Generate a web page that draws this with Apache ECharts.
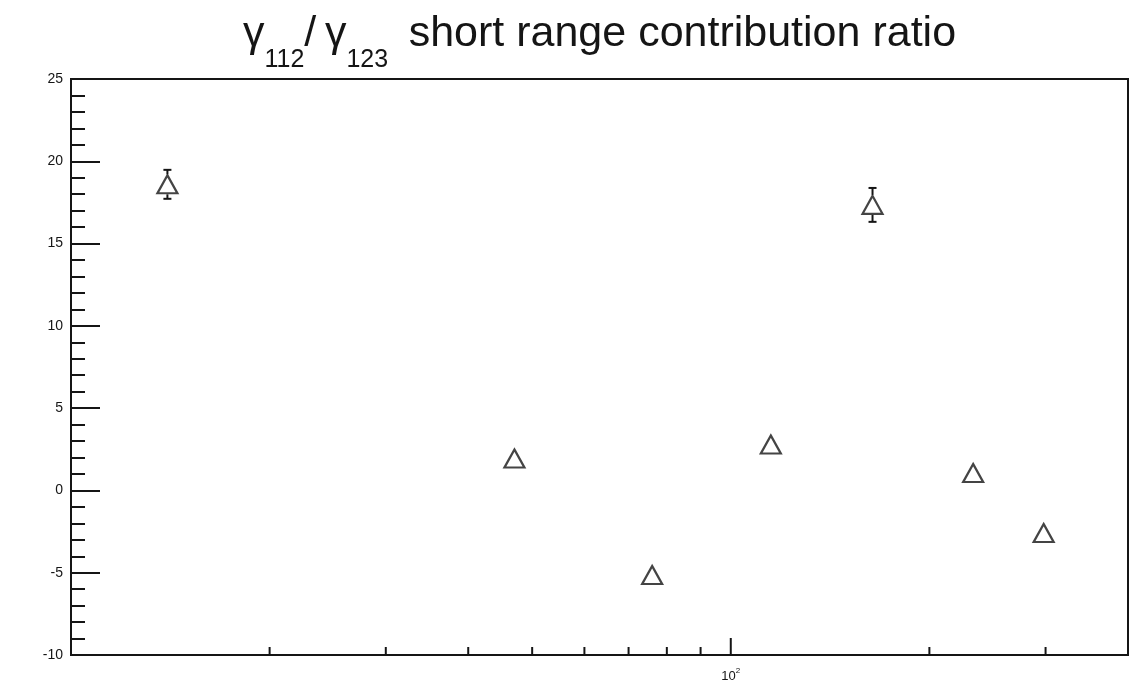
<!DOCTYPE html>
<html>
<head>
<meta charset="utf-8">
<title>γ112 / γ123 short range contribution ratio</title>
<script src="https://cdn.jsdelivr.net/npm/echarts@6/dist/echarts.min.js"></script>
<style>
  html, body { margin: 0; padding: 0; background: #ffffff; }
  #chart { width: 1137px; height: 691px; }
</style>
</head>
<body>
<div id="chart"></div>
<script>
// Measured points: x (log scale), ratio and its uncertainty
const xValues = [14, 47, 76, 115, 164, 233, 298];
const ratioValues = [18.6, 1.94, -5.14, 2.79, 17.35, 1.06, -2.59];
const ratioErrors = [0.88, 0.3, 0.3, 0.3, 1.03, 0.3, 0.3];

// Axis ranges and tick marks
const xRange = [10, 400];
const yRange = [-10, 25];
const yStep = 5;
const xMajorTicks = [100];
const xMinorTicks = [20, 30, 40, 50, 60, 70, 80, 90, 200, 300];

const ink = '#151515';
const markerW = 20, markerH = 18;

const points = xValues.map((x, i) => [x, ratioValues[i], ratioErrors[i]]);

// Vertical error bars drawn outside the marker, with short end caps
function renderErrorBar(params, api) {
  const x = api.value(0), y = api.value(1), e = api.value(2);
  const c = api.coord([x, y]);
  const hi = api.coord([x, y + e]);
  const lo = api.coord([x, y - e]);
  const half = markerH / 2 + 1;
  const cap = 4;
  const children = [];
  const style = { stroke: ink, lineWidth: 2 };
  if (c[1] - hi[1] > half) {
    children.push({ type: 'line', shape: { x1: c[0], y1: c[1] - half, x2: c[0], y2: hi[1] }, style });
    children.push({ type: 'line', shape: { x1: c[0] - cap, y1: hi[1], x2: c[0] + cap, y2: hi[1] }, style });
  }
  if (lo[1] - c[1] > half) {
    children.push({ type: 'line', shape: { x1: c[0], y1: c[1] + half, x2: c[0], y2: lo[1] }, style });
    children.push({ type: 'line', shape: { x1: c[0] - cap, y1: lo[1], x2: c[0] + cap, y2: lo[1] }, style });
  }
  return { type: 'group', children };
}

// Inward tick marks on the bottom edge of the frame
function tickRenderer(len) {
  return function (params, api) {
    const p = api.coord([api.value(0), yRange[0]]);
    return {
      type: 'line',
      shape: { x1: p[0], y1: p[1], x2: p[0], y2: p[1] - len },
      style: { stroke: ink, lineWidth: 2 }
    };
  };
}

const chart = echarts.init(document.getElementById('chart'), null, { renderer: 'canvas' });

const titleFont = { fontFamily: 'Liberation Sans', fontWeight: 'normal', color: ink };

chart.setOption({
  backgroundColor: '#ffffff',
  animation: false,
  title: {
    text: '{g|γ}{s|112}{g|/\u2009γ}{s|123}{g| \u2009short range contribution ratio}',
    left: 238,
    top: 8,
    textStyle: {
      fontWeight: 'normal',
      rich: {
        g: Object.assign({ fontSize: 43, lineHeight: 48, verticalAlign: 'top' }, titleFont),
        s: Object.assign({ fontSize: 25, lineHeight: 25, verticalAlign: 'top', padding: [35, 0, 0, 0] }, titleFont)
      }
    }
  },
  grid: {
    left: 71, right: 9, top: 79, bottom: 36,
    show: true, borderColor: ink, borderWidth: 2, backgroundColor: 'transparent'
  },
  xAxis: {
    type: 'log',
    logBase: 10,
    min: xRange[0],
    max: xRange[1],
    axisLine: { show: false, onZero: false },
    axisTick: { show: false },
    splitLine: { show: false },
    axisLabel: {
      margin: 12,
      formatter: function (v) {
        return Math.abs(v - 100) < 1e-6 ? '{b|10}{p|2}' : '';
      },
      rich: {
        b: { fontFamily: 'Liberation Sans', fontSize: 13, color: ink, verticalAlign: 'bottom', lineHeight: 16 },
        p: { fontFamily: 'Liberation Sans', fontSize: 8, color: ink, verticalAlign: 'top', lineHeight: 16 }
      }
    }
  },
  yAxis: {
    type: 'value',
    min: yRange[0],
    max: yRange[1],
    interval: yStep,
    axisLine: { show: true, lineStyle: { color: ink, width: 2 } },
    axisTick: { show: true, inside: true, length: 29, lineStyle: { color: ink, width: 2 } },
    minorTick: { show: true, splitNumber: 5, length: 14, lineStyle: { color: ink, width: 2 } },
    splitLine: { show: false },
    axisLabel: { fontFamily: 'Liberation Sans', fontSize: 14, color: ink, margin: 8 }
  },
  series: [
    {
      type: 'custom',
      name: 'xMajor',
      data: xMajorTicks.map(v => [v]),
      renderItem: tickRenderer(17),
      silent: true, z: 1
    },
    {
      type: 'custom',
      name: 'xMinor',
      data: xMinorTicks.map(v => [v]),
      renderItem: tickRenderer(8),
      silent: true, z: 1
    },
    {
      type: 'custom',
      name: 'errors',
      data: points,
      renderItem: renderErrorBar,
      silent: true, z: 2
    },
    {
      type: 'scatter',
      name: 'ratio',
      data: points.map(p => [p[0], p[1]]),
      symbol: 'triangle',
      symbolSize: [markerW, markerH],
      itemStyle: { color: 'rgba(255,255,255,0)', borderColor: ink, borderWidth: 2.2 },
      z: 3
    }
  ]
});
</script>
</body>
</html>
